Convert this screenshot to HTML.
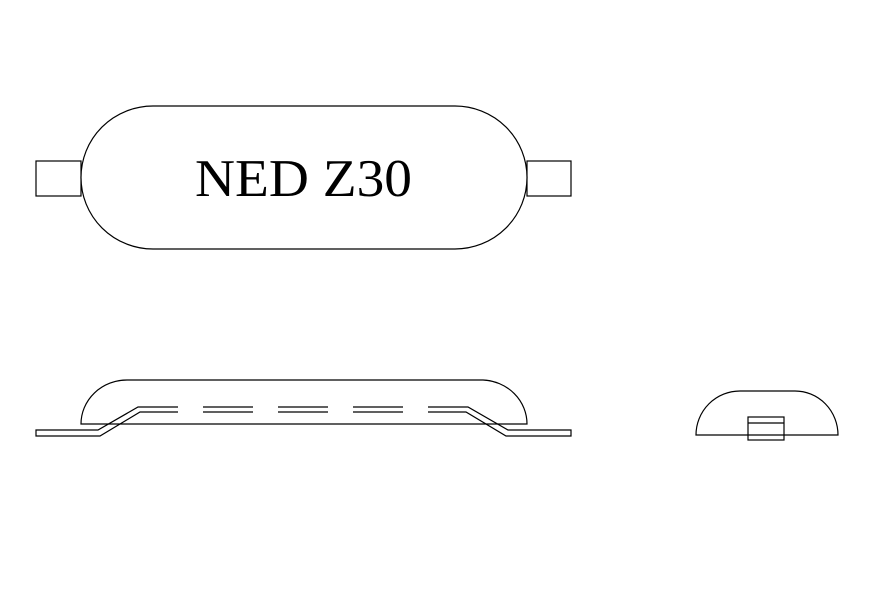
<!DOCTYPE html>
<html><head><style>html,body{margin:0;padding:0;background:#fff}svg{display:block}</style></head>
<body>
<svg width="890" height="593" viewBox="0 0 890 593" xmlns="http://www.w3.org/2000/svg">
<g fill="none" stroke="#000" stroke-width="1.2">
<!-- top view -->
<rect x="36" y="161" width="45" height="35"/>
<rect x="527" y="161" width="44" height="35"/>
<path d="M153,106 H455 A72,71.5 0 0 1 455,249 H153 A72,71.5 0 0 1 153,106 Z" fill="#fff"/>
<!-- side view -->
<path d="M81,424 A46,44 0 0 1 127,380 H483 A46,44 0 0 1 527,424 Z"/>
<path d="M178,407 H138 L98,430 H36 V436 H100 L140,412 H178"/>
<path d="M428,407 H468 L508,430 H571 V436 H506 L466,412 H428"/>
<path d="M203,407 H253 M278,407 H328 M353,407 H403 M203,412 H253 M278,412 H328 M353,412 H403"/>
<!-- front view -->
<path d="M696,435 A44,44 0 0 1 740,391 H795 A43,44 0 0 1 838,435 Z"/>
<rect x="748" y="417" width="36" height="23"/>
<line x1="748" y1="423" x2="784" y2="423"/>
</g>
<text x="195" y="196" font-family="Liberation Serif, serif" font-size="53" textLength="217" lengthAdjust="spacingAndGlyphs">NED Z30</text>
</svg>
</body></html>
